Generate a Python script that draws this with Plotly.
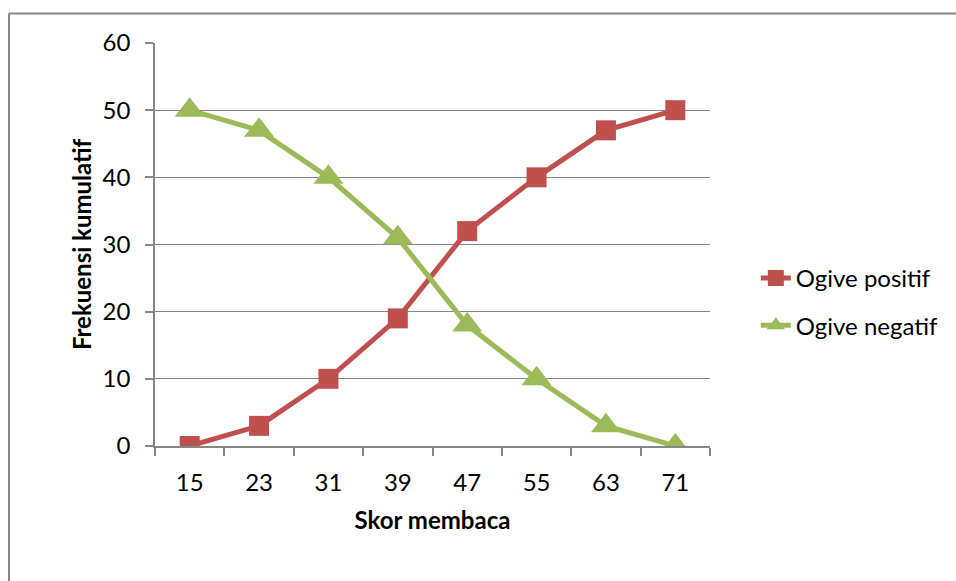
import plotly.graph_objects as go

# Cumulative frequency of reading scores (ogives)
skor = ["15", "23", "31", "39", "47", "55", "63", "71"]
ogive_positif = [0, 3, 10, 19, 32, 40, 47, 50]
ogive_negatif = [50, 47, 40, 31, 18, 10, 3, 0]

RED = "#C0504D"
GREEN = "#9BBB59"
GRID = "#868686"
FONT = "Lato, Open Sans, sans-serif"
FS = 24

# Plot-area geometry (pixels) used for the outer frame shapes
W, H = 956, 581
L, R, T, B = 155, 244, 43, 135
pw, ph = W - L - R, H - T - B


def px_x(x):
    return (x - L) / pw


def px_y(y):
    return (H - B - y) / ph


fig = go.Figure()
fig.add_trace(go.Scatter(
    x=skor, y=ogive_positif, name="Ogive positif", mode="lines+markers",
    line=dict(color=RED, width=5),
    marker=dict(symbol="square", size=20, color=RED),
    legendgroup="a",
))
fig.add_trace(go.Scatter(
    x=skor, y=ogive_negatif, name="Ogive negatif", mode="lines+markers",
    line=dict(color=GREEN, width=5),
    marker=dict(symbol="triangle-up", size=26, color=GREEN),
    legendgroup="b",
))

fig.update_layout(
    width=W, height=H,
    margin=dict(l=L, r=R, t=T, b=B, pad=0),
    paper_bgcolor="white", plot_bgcolor="white",
    font=dict(family=FONT, size=FS, color="black"),
    showlegend=True,
    legend=dict(
        x=px_x(758), y=px_y(256), xanchor="left", yanchor="top",
        font=dict(family=FONT, size=FS, color="black"),
        tracegroupgap=13, bgcolor="rgba(0,0,0,0)",
    ),
    xaxis=dict(
        type="category", range=[-0.5, 7.5],
        showline=True, linecolor=GRID, linewidth=1.5,
        ticks="outside", tickson="boundaries", ticklen=8, tickcolor=GRID, tickwidth=1.5,
        ticklabelstandoff=14,
        showgrid=False, zeroline=False,
        tickfont=dict(size=FS),
        title=dict(text="<b>Skor membaca</b>", font=dict(size=FS), standoff=18),
    ),
    yaxis=dict(
        range=[0, 60], tickvals=[0, 10, 20, 30, 40, 50, 60],
        showline=True, linecolor=GRID, linewidth=1.5,
        ticks="outside", ticklen=8, tickcolor=GRID, tickwidth=1.5,
        ticklabelstandoff=10,
        showgrid=True, gridcolor=GRID, gridwidth=1.2,
        zeroline=False,
        tickfont=dict(size=FS),
        title=dict(text="<b>Frekuensi kumulatif</b>", font=dict(size=FS), standoff=4),
    ),
    shapes=[
        dict(type="line", xref="paper", yref="paper",
             x0=px_x(8.5), x1=px_x(W + 5), y0=px_y(13.5), y1=px_y(13.5),
             line=dict(color=GRID, width=2)),
        dict(type="line", xref="paper", yref="paper",
             x0=px_x(8.5), x1=px_x(8.5), y0=px_y(13.5), y1=px_y(H + 5),
             line=dict(color=GRID, width=2)),
    ],
)

fig.write_html("out.html")
